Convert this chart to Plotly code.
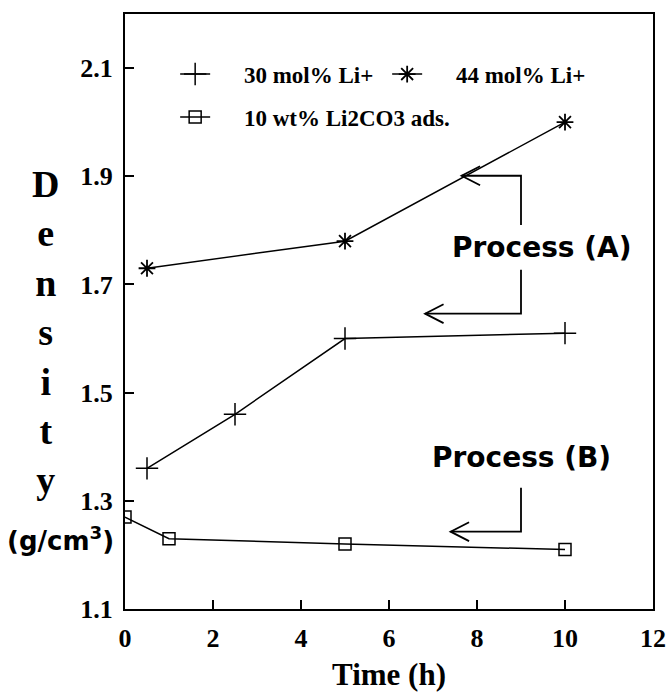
import plotly.graph_objects as go

# Density of the glass samples versus treatment time
time_30 = [0.5, 2.5, 5, 10]
dens_30 = [1.36, 1.46, 1.60, 1.61]

time_44 = [0.5, 5, 10]
dens_44 = [1.73, 1.78, 2.00]

time_ads = [0, 1, 5, 10]
dens_ads = [1.27, 1.23, 1.22, 1.21]

y_ticks = [1.1, 1.3, 1.5, 1.7, 1.9, 2.1]
x_ticks = [0, 2, 4, 6, 8, 10, 12]

SERIF = "Liberation Serif"
SANS = "DejaVu Sans"
PAD = "\u00a0" * 5

fig = go.Figure()

fig.add_trace(go.Scatter(
    x=time_30, y=dens_30, mode="lines+markers", name=PAD + "30 mol% Li+",
    line=dict(color="black", width=1.5),
    marker=dict(symbol="cross-thin-open", size=16, line=dict(color="black", width=1.5)),
    legend="legend",
))
fig.add_trace(go.Scatter(
    x=time_44, y=dens_44, mode="lines+markers", name=PAD + "44 mol% Li+",
    line=dict(color="black", width=1.5),
    marker=dict(symbol="asterisk-open", size=14, line=dict(color="black", width=1.8)),
    legend="legend",
))
fig.add_trace(go.Scatter(
    x=time_ads, y=dens_ads, mode="lines+markers", name=PAD + "10 wt% Li2CO3 ads.",
    line=dict(color="black", width=1.5),
    marker=dict(symbol="square-open", size=12, line=dict(color="black", width=1.5)),
    legend="legend2",
))

# Bracket arrows pointing from the process labels back to the curves:
# (tip x, corner x, y of horizontal leg, y where vertical leg ends)
arrows = [
    (7.65, 9.0, 1.901, 1.810),
    (6.82, 9.0, 1.646, 1.727),
    (7.40, 9.0, 1.243, 1.324),
]
head_dx, head_dy = 0.42, 0.0175
for tip_x, corner_x, y_h, y_v in arrows:
    fig.add_shape(type="path", xref="x", yref="y",
                  path=f"M{tip_x},{y_h} L{corner_x},{y_h} L{corner_x},{y_v}",
                  line=dict(color="black", width=1.8))
    fig.add_shape(type="path", xref="x", yref="y",
                  path=f"M{tip_x + head_dx},{y_h + head_dy} L{tip_x},{y_h} L{tip_x + head_dx},{y_h - head_dy}",
                  line=dict(color="black", width=1.8))

fig.add_annotation(x=9.47, y=1.768, xref="x", yref="y", text="Process (A)",
                   showarrow=False, font=dict(family=SANS, size=28, weight="bold", color="black"))
fig.add_annotation(x=9.0, y=1.38, xref="x", yref="y", text="Process (B)",
                   showarrow=False, font=dict(family=SANS, size=28, weight="bold", color="black"))

# Stacked y-axis title and unit
fig.add_annotation(x=-0.150, y=0.466, xref="paper", yref="paper",
                   text="<br>".join("Density"), showarrow=False,
                   xanchor="center", yanchor="middle",
                   font=dict(family=SERIF, size=38, weight="bold", color="black"))
fig.add_annotation(x=-0.122, y=0.118, xref="paper", yref="paper",
                   text="(g/cm<sup>3</sup>)", showarrow=False,
                   xanchor="center", yanchor="middle",
                   font=dict(family=SANS, size=26, weight="bold", color="black"))

axis_common = dict(
    showline=True, linecolor="black", linewidth=2, mirror=True,
    showgrid=False, zeroline=False,
    ticks="inside", tickcolor="black", tickwidth=1.5, ticklen=9,
    tickfont=dict(family=SERIF, size=26, weight="bold", color="black"),
)

legend_font = dict(family=SERIF, size=23, weight="bold", color="black")

fig.update_layout(
    width=670, height=692,
    margin=dict(l=125, r=17, t=14, b=83, autoexpand=False),
    paper_bgcolor="white", plot_bgcolor="white",
    xaxis=dict(range=[0, 12], tickvals=x_ticks, ticktext=[str(v) for v in x_ticks],
               ticklabelstandoff=5, automargin=False,
               title=dict(text="Time (h)", standoff=16,
                          font=dict(family=SERIF, size=31, weight="bold", color="black")),
               **axis_common),
    yaxis=dict(range=[1.1, 2.2], tickvals=y_ticks, ticktext=[f"{v:.1f}" for v in y_ticks],
               ticklabelstandoff=5, automargin=False, **axis_common),
    legend=dict(orientation="h", x=0.095, y=0.899, xanchor="left", yanchor="middle",
                bgcolor="rgba(0,0,0,0)", entrywidth=167, entrywidthmode="pixels",
                font=legend_font),
    legend2=dict(orientation="h", x=0.095, y=0.827, xanchor="left", yanchor="middle",
                 bgcolor="rgba(0,0,0,0)", font=legend_font),
)

fig.write_html("out.html")
